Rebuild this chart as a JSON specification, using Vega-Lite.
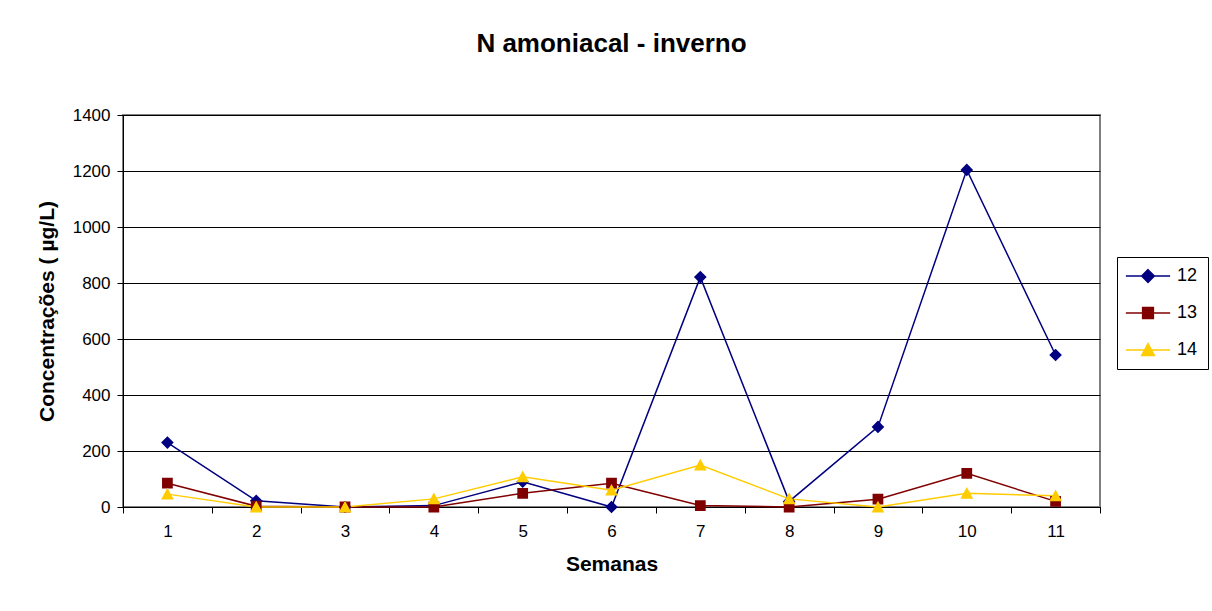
{
  "$schema": "https://vega.github.io/schema/vega-lite/v6.json",
  "autosize": {"type": "none"},
  "width": 977,
  "height": 392,
  "padding": {"left": 123, "top": 115, "right": 112, "bottom": 104},
  "background": "white",
  "config": {
    "font": "Liberation Sans",
    "view": {"stroke": "#808080", "strokeWidth": 2},
    "axis": {"labelColor": "black", "titleColor": "black", "domainColor": "black", "tickColor": "black"}
  },
  "title": {
    "text": "N amoniacal - inverno",
    "fontSize": 26,
    "fontWeight": "bold",
    "font": "Liberation Sans",
    "color": "black",
    "anchor": "middle",
    "frame": "group",
    "offset": 49
  },
  "data": {
    "values": [
      {"semana": "1", "serie": "12", "valor": 230},
      {"semana": "2", "serie": "12", "valor": 22},
      {"semana": "3", "serie": "12", "valor": 0},
      {"semana": "4", "serie": "12", "valor": 5},
      {"semana": "5", "serie": "12", "valor": 90},
      {"semana": "6", "serie": "12", "valor": 0},
      {"semana": "7", "serie": "12", "valor": 821},
      {"semana": "8", "serie": "12", "valor": 20},
      {"semana": "9", "serie": "12", "valor": 286},
      {"semana": "10", "serie": "12", "valor": 1204},
      {"semana": "11", "serie": "12", "valor": 543},
      {"semana": "1", "serie": "13", "valor": 85},
      {"semana": "2", "serie": "13", "valor": 3},
      {"semana": "3", "serie": "13", "valor": 0},
      {"semana": "4", "serie": "13", "valor": 0},
      {"semana": "5", "serie": "13", "valor": 49},
      {"semana": "6", "serie": "13", "valor": 85},
      {"semana": "7", "serie": "13", "valor": 5},
      {"semana": "8", "serie": "13", "valor": 0},
      {"semana": "9", "serie": "13", "valor": 28},
      {"semana": "10", "serie": "13", "valor": 120},
      {"semana": "11", "serie": "13", "valor": 20},
      {"semana": "1", "serie": "14", "valor": 46},
      {"semana": "2", "serie": "14", "valor": 0},
      {"semana": "3", "serie": "14", "valor": 0},
      {"semana": "4", "serie": "14", "valor": 29},
      {"semana": "5", "serie": "14", "valor": 108},
      {"semana": "6", "serie": "14", "valor": 60},
      {"semana": "7", "serie": "14", "valor": 150},
      {"semana": "8", "serie": "14", "valor": 29},
      {"semana": "9", "serie": "14", "valor": 0},
      {"semana": "10", "serie": "14", "valor": 49},
      {"semana": "11", "serie": "14", "valor": 40}
    ]
  },
  "encoding": {
    "x": {
      "field": "semana",
      "type": "ordinal",
      "sort": ["1","2","3","4","5","6","7","8","9","10","11"],
      "bandPosition": 0.5,
      "scale": {"type": "band", "paddingInner": 0, "paddingOuter": 0},
      "axis": {
        "title": "Semanas",
        "titleFontSize": 21,
        "titleFontWeight": "bold",
        "titlePadding": 14,
        "labelAngle": 0,
        "labelFontSize": 17,
        "labelPadding": 10,
        "tickSize": 6,
        "tickBand": "extent",
        "grid": false,
        "domainWidth": 1
      }
    },
    "y": {
      "field": "valor",
      "type": "quantitative",
      "scale": {"domain": [0, 1400], "nice": false},
      "axis": {
        "title": "Concentrações ( µg/L)",
        "titleFontSize": 21,
        "titleFontWeight": "bold",
        "titlePadding": 15,
        "values": [0, 200, 400, 600, 800, 1000, 1200, 1400],
        "format": "d",
        "labelFontSize": 17,
        "labelPadding": 7,
        "tickSize": 6,
        "grid": true,
        "gridColor": "black",
        "gridWidth": 1,
        "gridOpacity": 1,
        "domainWidth": 1
      }
    },
    "color": {
      "field": "serie",
      "type": "nominal",
      "scale": {"domain": ["12", "13", "14"], "range": ["#000080", "#800000", "#FFCC00"]},
      "legend": {
        "title": null,
        "orient": "none",
        "legendX": 994,
        "legendY": 142,
        "strokeColor": "black",
        "fillColor": "white",
        "padding": 10,
        "labelFontSize": 18,
        "labelColor": "black",
        "symbolSize": 160,
        "symbolOffset": 12,
        "labelOffset": 20,
        "rowPadding": 18,
        "encode": {
          "symbols": {
            "update": {
              "stroke": {"scale": "color", "field": "value"},
              "fill": {"scale": "color", "field": "value"},
              "strokeWidth": {"value": 1.5}
            }
          }
        }
      }
    }
  },
  "layer": [
    {
      "mark": {"type": "line", "strokeWidth": 1.5}
    },
    {
      "mark": {"type": "point", "filled": true, "size": 160, "strokeWidth": 0, "opacity": 1},
      "encoding": {
        "shape": {
          "field": "serie",
          "type": "nominal",
          "scale": {
            "domain": ["12", "13", "14"],
            "range": [
              "M0,-1L1,0L0,1L-1,0Z M-3.5,0H3.5",
              "M-0.85,-0.85H0.85V0.85H-0.85Z M-3.5,0H3.5",
              "M0,-1L1,0.85H-1Z M-3.5,0H3.5"
            ]
          },
          "legend": {
            "title": null,
            "orient": "none",
            "legendX": 994,
            "legendY": 142
          }
        }
      }
    }
  ]
}
